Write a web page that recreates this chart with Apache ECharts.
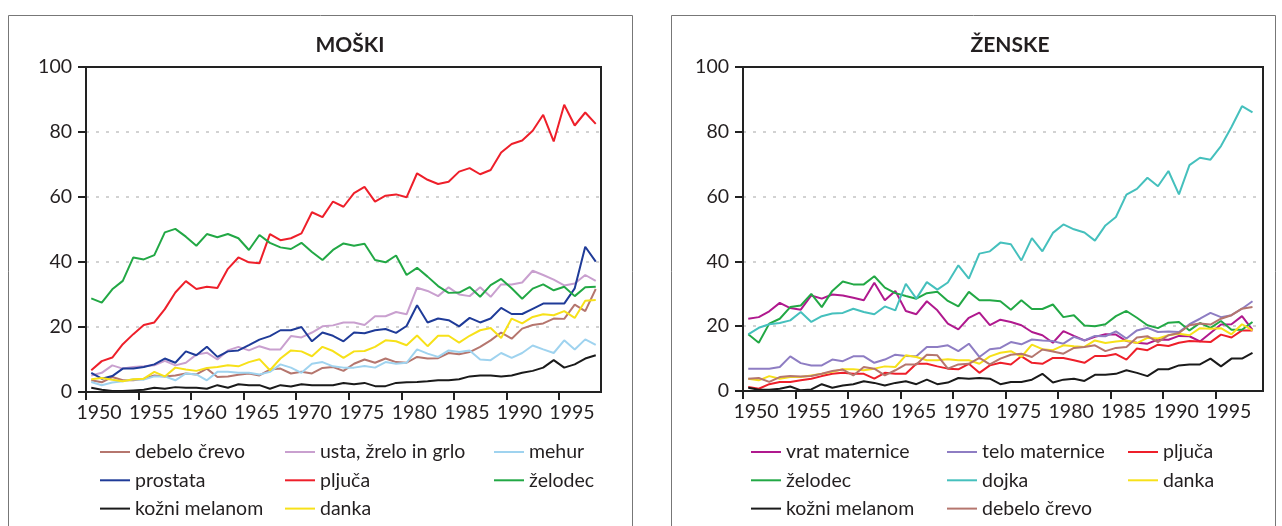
<!DOCTYPE html>
<html>
<head>
<meta charset="utf-8">
<script src="https://cdn.jsdelivr.net/npm/echarts@6/dist/echarts.min.js"></script>
<style>
  html, body { margin: 0; padding: 0; background: #fff; }
  #chart { width: 1282px; height: 526px; }
</style>
</head>
<body>
<div id="chart"></div>
<script>
  const years = [1950, 1951, 1952, 1953, 1954, 1955, 1956, 1957, 1958, 1959,
    1960, 1961, 1962, 1963, 1964, 1965, 1966, 1967, 1968, 1969,
    1970, 1971, 1972, 1973, 1974, 1975, 1976, 1977, 1978, 1979,
    1980, 1981, 1982, 1983, 1984, 1985, 1986, 1987, 1988, 1989,
    1990, 1991, 1992, 1993, 1994, 1995, 1996, 1997, 1998];
  const xTicks = [1950, 1955, 1960, 1965, 1970, 1975, 1980, 1985, 1990, 1995];

  // MOŠKI
  const mDebelo = [3.6, 3.0, 4.6, 3.6, 3.6, 4.1, 5.1, 4.8, 5.1, 5.7,
    5.4, 7.2, 4.6, 4.8, 5.3, 5.7, 5.1, 6.9, 7.2, 5.7,
    6.2, 5.7, 7.4, 7.7, 6.5, 8.7, 10.0, 9.0, 10.3, 9.2,
    9.0, 10.8, 10.3, 10.4, 12.0, 11.6, 12.3, 13.9, 15.9, 18.3,
    16.4, 19.5, 20.6, 21.1, 22.6, 22.5, 26.9, 24.9, 31.7];
  const mUsta = [5.1, 5.9, 8.2, 7.2, 7.7, 7.9, 8.2, 9.6, 8.2, 9.0,
    11.5, 12.1, 10.0, 12.8, 13.9, 12.8, 14.1, 13.1, 13.1, 17.2,
    16.8, 18.3, 20.2, 20.5, 21.4, 21.4, 20.6, 23.3, 23.3, 24.6,
    23.9, 32.1, 31.1, 29.5, 32.2, 30.0, 29.5, 32.2, 29.3, 33.1,
    33.1, 33.7, 37.3, 36.0, 34.6, 32.8, 33.4, 36.0, 34.2];
  const mMehur = [3.1, 2.1, 2.9, 3.3, 3.9, 3.8, 4.8, 4.8, 3.6, 5.7,
    5.4, 3.6, 6.2, 6.2, 5.9, 5.9, 5.4, 6.2, 8.5, 7.5,
    5.9, 8.7, 9.2, 7.9, 7.5, 7.5, 8.0, 7.5, 9.2, 8.7,
    9.0, 13.1, 11.8, 10.8, 12.8, 12.3, 12.8, 10.0, 9.8, 12.0,
    10.5, 12.0, 14.3, 13.1, 12.0, 15.9, 13.1, 16.2, 14.5];
  const mProstata = [5.9, 4.1, 4.9, 7.2, 7.2, 7.7, 8.5, 10.3, 9.0, 12.5,
    11.3, 13.9, 10.8, 12.5, 12.8, 14.4, 16.1, 17.2, 19.0, 19.0,
    20.0, 15.6, 18.3, 17.3, 15.6, 18.3, 18.1, 19.0, 19.4, 18.2,
    20.3, 26.7, 21.4, 22.6, 22.1, 20.2, 22.8, 21.4, 22.6, 25.9,
    24.0, 24.0, 25.6, 27.2, 27.2, 27.2, 31.9, 44.7, 40.1];
  const mPljuca = [6.7, 9.5, 10.6, 14.7, 17.8, 20.6, 21.4, 25.5, 30.6, 34.1,
    31.7, 32.4, 32.0, 37.9, 41.4, 39.9, 39.6, 48.6, 46.7, 47.3,
    48.8, 55.3, 53.8, 58.6, 57.0, 61.2, 63.1, 58.6, 60.4, 60.8,
    59.9, 67.3, 65.3, 64.0, 64.7, 67.8, 68.9, 67.0, 68.3, 73.7,
    76.3, 77.4, 80.4, 85.3, 77.1, 88.4, 82.0, 86.0, 82.5];
  const mZelodec = [28.8, 27.5, 31.6, 34.2, 41.4, 40.8, 42.1, 49.1, 50.2, 47.8,
    45.0, 48.6, 47.6, 48.6, 47.3, 43.7, 48.3, 45.9, 44.5, 44.0,
    45.9, 43.1, 40.6, 43.7, 45.7, 45.0, 45.6, 40.6, 39.9, 42.0,
    36.0, 38.2, 35.5, 32.6, 30.5, 30.6, 32.3, 29.3, 32.9, 34.8,
    31.9, 28.7, 31.8, 33.1, 31.3, 32.4, 29.5, 32.2, 32.4];
  const mMelanom = [1.3, 0.7, 0.3, 0.3, 0.5, 0.7, 1.3, 1.0, 1.5, 1.3,
    1.3, 1.0, 2.1, 1.3, 2.4, 2.1, 2.1, 1.0, 2.1, 1.7,
    2.4, 2.1, 2.1, 2.1, 2.8, 2.4, 2.8, 1.8, 1.8, 2.8,
    3.0, 3.1, 3.3, 3.6, 3.6, 3.9, 4.8, 5.1, 5.1, 4.8,
    5.1, 5.9, 6.5, 7.5, 9.8, 7.5, 8.5, 10.3, 11.3];
  const mDanka = [3.9, 4.3, 3.8, 3.3, 3.9, 4.1, 6.2, 4.8, 7.5, 6.9,
    6.5, 7.4, 7.7, 8.2, 7.9, 9.2, 10.1, 6.7, 10.3, 12.8,
    12.5, 11.0, 13.9, 12.6, 10.5, 12.5, 12.6, 13.9, 15.9, 15.6,
    14.4, 17.4, 14.1, 17.3, 17.3, 15.2, 17.3, 19.0, 19.7, 16.6,
    22.6, 21.1, 23.1, 23.9, 23.6, 24.9, 22.8, 28.1, 28.3];

  // ŽENSKE
  const zVrat = [22.3, 22.8, 24.6, 27.2, 25.6, 25.1, 29.5, 28.5, 29.8, 29.5,
    28.8, 28.0, 33.4, 28.0, 30.9, 24.7, 23.7, 27.7, 24.9, 20.8,
    19.0, 22.6, 24.2, 20.3, 22.0, 21.3, 20.3, 18.2, 17.2, 14.9,
    18.5, 17.0, 15.6, 16.7, 17.5, 17.4, 15.4, 14.9, 14.6, 15.9,
    15.8, 17.0, 16.9, 15.3, 17.9, 20.5, 20.6, 23.1, 18.9];
  const zTelo = [6.9, 6.9, 6.9, 7.4, 10.7, 8.6, 7.9, 7.9, 9.7, 9.2,
    10.7, 10.7, 8.7, 9.7, 11.2, 10.8, 10.7, 13.6, 13.6, 14.1,
    12.3, 14.6, 10.5, 12.9, 13.3, 15.1, 14.4, 15.9, 15.6, 15.4,
    14.6, 16.7, 15.6, 17.0, 16.9, 18.4, 16.2, 18.7, 19.5, 18.2,
    18.4, 18.2, 20.6, 22.3, 24.1, 22.8, 23.4, 25.4, 27.7];
  const zPljuca = [1.2, 0.7, 2.1, 2.8, 2.8, 3.3, 3.8, 4.6, 5.3, 5.6,
    5.3, 5.3, 3.8, 5.6, 5.3, 5.3, 8.4, 8.4, 7.6, 6.9,
    6.7, 8.4, 5.6, 7.9, 8.7, 8.2, 10.7, 8.7, 8.4, 10.2,
    10.2, 9.5, 8.7, 10.8, 10.8, 11.4, 9.7, 13.1, 12.6, 14.3,
    13.9, 14.9, 15.4, 15.3, 15.1, 17.4, 16.5, 18.7, 18.7];
  const zZelodec = [17.5, 14.9, 20.8, 22.3, 25.9, 26.4, 30.0, 25.9, 30.9, 33.8,
    32.9, 32.9, 35.4, 31.9, 30.2, 29.3, 28.5, 30.2, 30.6, 27.8,
    26.1, 30.6, 28.0, 28.0, 27.7, 25.1, 28.0, 25.3, 25.3, 26.7,
    22.8, 23.4, 20.2, 20.0, 20.6, 23.1, 24.7, 22.6, 20.3, 19.4,
    21.1, 21.3, 18.7, 21.0, 19.5, 21.6, 18.9, 18.9, 21.3];
  const zDojka = [17.5, 19.5, 20.6, 21.0, 21.8, 24.4, 21.3, 23.1, 23.9, 24.1,
    25.4, 24.4, 23.7, 26.1, 24.9, 33.1, 28.5, 33.6, 31.3, 33.5,
    38.8, 34.7, 42.4, 43.1, 45.8, 45.3, 40.3, 47.2, 43.1, 48.8,
    51.4, 49.9, 48.9, 46.4, 51.1, 53.7, 60.6, 62.4, 65.8, 63.2,
    67.9, 60.7, 69.7, 72.0, 71.4, 75.6, 81.5, 87.9, 86.0];
  const zDanka = [3.8, 3.3, 4.6, 3.8, 4.3, 4.3, 4.8, 5.3, 5.9, 6.7,
    6.7, 6.4, 6.9, 7.6, 7.4, 11.0, 10.5, 9.5, 9.5, 9.8,
    9.5, 9.5, 8.4, 10.7, 11.8, 12.3, 10.5, 14.3, 12.9, 12.6,
    14.1, 13.8, 13.6, 15.6, 14.8, 15.3, 15.6, 14.8, 16.4, 16.2,
    17.2, 17.7, 17.2, 19.4, 19.2, 19.4, 17.5, 20.6, 18.7];
  const zMelanom = [1.0, 0.4, 0.4, 0.7, 1.4, 0.2, 0.5, 2.1, 1.0, 1.7,
    2.1, 3.0, 2.5, 1.7, 2.5, 3.0, 2.1, 3.5, 2.1, 2.6,
    4.0, 3.8, 4.0, 3.8, 2.1, 2.8, 2.8, 3.5, 5.3, 2.6,
    3.5, 3.8, 3.1, 5.0, 5.0, 5.3, 6.4, 5.6, 4.6, 6.7,
    6.7, 7.9, 8.2, 8.2, 10.0, 7.6, 10.0, 10.0, 11.8];
  const zDebelo = [3.8, 4.0, 2.8, 4.3, 4.6, 4.5, 4.6, 5.3, 6.2, 6.6,
    4.8, 7.4, 6.9, 4.8, 6.4, 8.2, 8.2, 11.2, 11.0, 6.9,
    8.2, 8.4, 10.2, 8.2, 10.0, 11.2, 11.5, 10.5, 12.8, 12.2,
    11.5, 13.3, 13.6, 14.1, 12.3, 13.3, 13.6, 16.5, 16.9, 15.1,
    17.2, 17.9, 20.3, 20.8, 20.5, 22.3, 23.4, 25.4, 25.9];

  const FONT = 'Lato';
  const TXT = '#231f20';
  const FS = 19.5;

  const chart = echarts.init(document.getElementById('chart'));

  // točka je na sredini leta
  function pts(arr) {
    return years.map((y, i) => [y + 0.5, arr[i]]);
  }
  function line(name, color, arr, idx) {
    return {
      name: name,
      type: 'line',
      xAxisIndex: idx,
      yAxisIndex: idx,
      data: pts(arr),
      symbol: 'none',
      showSymbol: false,
      lineStyle: { color: color, width: 2 },
      itemStyle: { color: color },
      emphasis: { disabled: true }
    };
  }
  function xAxis(idx, max) {
    return {
      type: 'value',
      gridIndex: idx,
      min: 1950,
      max: max,
      interval: 5,
      axisLine: { show: true, onZero: false, lineStyle: { color: '#222', width: 2 } },
      axisTick: { show: true, length: 8, customValues: xTicks, lineStyle: { color: '#222', width: 2 } },
      axisLabel: {
        customValues: xTicks,
        formatter: (v) => String(v),
        fontFamily: FONT, fontSize: FS, color: TXT,
        margin: 11,
        padding: [0, 0, 0, 26]
      },
      splitLine: { show: false }
    };
  }
  function yAxis(idx) {
    return {
      type: 'value',
      gridIndex: idx,
      min: 0,
      max: 100,
      interval: 20,
      axisLine: { show: true, lineStyle: { color: '#222', width: 2 } },
      axisTick: { show: true, length: 8, lineStyle: { color: '#222', width: 2 } },
      axisLabel: { fontFamily: FONT, fontSize: FS, color: TXT, margin: 14 },
      splitLine: {
        show: true, showMinLine: false, showMaxLine: false,
        lineStyle: { color: '#c4c4c4', width: 1.5, type: [3, 7] }
      }
    };
  }
  function legend(left, names) {
    return {
      left: left,
      top: 442,
      padding: 0,
      orient: 'vertical',
      data: names,
      icon: 'rect',
      itemWidth: 30,
      itemHeight: 2,
      itemGap: 8.3,
      selectedMode: false,
      textStyle: { fontFamily: FONT, fontSize: FS, color: TXT, lineHeight: 20 }
    };
  }
  // okvir risalne ploskve
  function frame(x, y, w, h) {
    return { type: 'rect', z: 100, silent: true, shape: { x: x, y: y, width: w, height: h },
      style: { fill: 'none', stroke: '#222', lineWidth: 2 } };
  }

  chart.setOption({
    animation: false,
    title: [
      { text: 'MOŠKI', left: 345, top: 30, textAlign: 'center',
        textStyle: { fontFamily: FONT, fontSize: 21, fontWeight: 'bold', color: TXT } },
      { text: 'ŽENSKE', left: 1005, top: 30, textAlign: 'center',
        textStyle: { fontFamily: FONT, fontSize: 21, fontWeight: 'bold', color: TXT } }
    ],
    graphic: [
      { type: 'rect', shape: { x: 8.5, y: 15.5, width: 624, height: 530 },
        style: { fill: 'none', stroke: '#777', lineWidth: 1 }, silent: true },
      { type: 'rect', shape: { x: 671.5, y: 15.5, width: 604, height: 530 },
        style: { fill: 'none', stroke: '#777', lineWidth: 1 }, silent: true },
      frame(86, 67, 515, 325),
      frame(743, 67, 520, 324)
    ],
    grid: [
      { left: 86, top: 67, width: 515, height: 325 },
      { left: 743, top: 67, width: 520, height: 324 }
    ],
    xAxis: [xAxis(0, 1999), xAxis(1, 1999.5)],
    yAxis: [yAxis(0), yAxis(1)],
    legend: [
      legend(100, ['debelo črevo', 'prostata', 'kožni melanom']),
      legend(285, ['usta, žrelo in grlo', 'pljuča', 'danka']),
      legend(494, ['mehur', 'želodec']),
      legend(751, ['vrat maternice', 'želodec', 'kožni melanom']),
      legend(947, ['telo maternice', 'dojka', 'debelo črevo']),
      legend(1128, ['pljuča', 'danka'])
    ],
    series: [
      line('debelo črevo', '#b5766e', mDebelo, 0),
      line('usta, žrelo in grlo', '#c9a0cf', mUsta, 0),
      line('mehur', '#9fd3ef', mMehur, 0),
      line('prostata', '#1f3b98', mProstata, 0),
      line('pljuča', '#ee1f2a', mPljuca, 0),
      line('želodec', '#22a845', mZelodec, 0),
      line('kožni melanom', '#1a1a1a', mMelanom, 0),
      line('danka', '#f7e119', mDanka, 0),
      line('vrat maternice', '#b0198e', zVrat, 1),
      line('telo maternice', '#8e7dc3', zTelo, 1),
      line('pljuča', '#ee1f2a', zPljuca, 1),
      line('želodec', '#22a845', zZelodec, 1),
      line('dojka', '#45c0bd', zDojka, 1),
      line('danka', '#f7e119', zDanka, 1),
      line('kožni melanom', '#1a1a1a', zMelanom, 1),
      line('debelo črevo', '#b5766e', zDebelo, 1)
    ]
  });
</script>
</body>
</html>
